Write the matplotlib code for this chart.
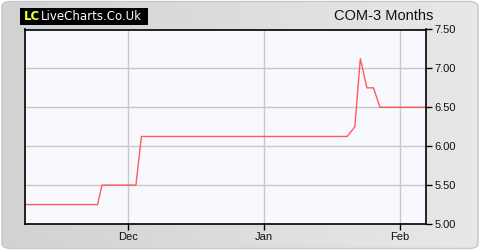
import numpy as np
import pandas as pd
import matplotlib
matplotlib.use("Agg")
import matplotlib.pyplot as plt
from matplotlib.patches import FancyBboxPatch, Rectangle

# price history
dates = ["2023-11-07 00:00", "2023-11-24 00:00", "2023-11-25 00:00", "2023-12-02 18:00",
         "2023-12-04 00:00", "2024-01-20 00:00", "2024-01-21 18:00", "2024-01-23 00:00",
         "2024-01-24 12:00", "2024-01-26 00:00", "2024-01-27 12:00", "2024-02-07 00:00"]
prices = [5.25, 5.25, 5.50, 5.50,
          6.125, 6.125, 6.25, 7.125,
          6.75, 6.75, 6.50, 6.50]
yticks = [5.00, 5.50, 6.00, 6.50, 7.00, 7.50]
xticks = ["2023-12-01", "2024-01-01", "2024-02-01"]
xticklabels = ["Dec", "Jan", "Feb"]

plt.rcParams['font.family'] = ['Liberation Sans', 'DejaVu Sans']

fig = plt.figure(figsize=(4.8, 2.5), dpi=100)
fig.patch.set_facecolor('white')

# grey gradient card behind everything
bg = fig.add_axes([0, 0, 1, 1], zorder=-10)
bg.set_axis_off()
grad = np.linspace(0, 1, 256).reshape(1, -1)
card = FancyBboxPatch((0.004, 0.006), 0.992, 0.988, boxstyle="round,pad=0,rounding_size=0.02",
                      transform=bg.transAxes, facecolor='none', edgecolor='#c8c8c8', lw=1)
im = bg.imshow(grad, extent=[0, 1, 0, 1], aspect='auto',
               cmap=matplotlib.colors.LinearSegmentedColormap.from_list('g', ['#d2d2d2', '#e8e8e8']))
bg.add_patch(card)
im.set_clip_path(card)
bg.set_xlim(0, 1)
bg.set_ylim(0, 1)

# logo
bg.add_patch(Rectangle((20 / 480, 1 - 24.5 / 250), 128 / 480, 16.5 / 250, transform=bg.transAxes,
                       facecolor='black', edgecolor='none'))
bg.text(24 / 480, 1 - 16.5 / 250, "LC", color='#ffff33', fontsize=8.5, fontweight='bold',
        family='DejaVu Sans', va='center', ha='left', transform=bg.transAxes)
bg.text(41 / 480, 1 - 16.5 / 250, "LiveCharts.Co.Uk", color='white', fontsize=8.5,
        family='DejaVu Sans', va='center', ha='left', transform=bg.transAxes)

# title
fig.text(433 / 480, 1 - 16 / 250, "COM-3 Months", fontsize=10.5, color='#111111',
         ha='right', va='center')

ax = fig.add_axes([25 / 480, 26 / 250, 401 / 480, 194.5 / 250])
ax.set_facecolor('#f8f9ff')
x = pd.to_datetime(dates)
ax.plot(x, prices, color='#ff4a4a', lw=1.0, alpha=0.9)

ax.set_xlim(pd.Timestamp("2023-11-07 10:00"), pd.Timestamp("2024-02-07"))
ax.set_ylim(5.0, 7.5)
ax.set_yticks(yticks)
ax.set_yticklabels(["%.2f" % v for v in yticks])
ax.set_xticks(pd.to_datetime(xticks))
ax.set_xticklabels(xticklabels)
ax.yaxis.tick_right()
ax.tick_params(axis='both', length=4, width=1, color='black', labelsize=8, labelcolor='#111111', pad=2)
ax.grid(True, color='#c8c8c8', lw=1)
for s in ax.spines.values():
    s.set_color('black')
    s.set_linewidth(1.2)

fig.savefig("out.png", dpi=100)
